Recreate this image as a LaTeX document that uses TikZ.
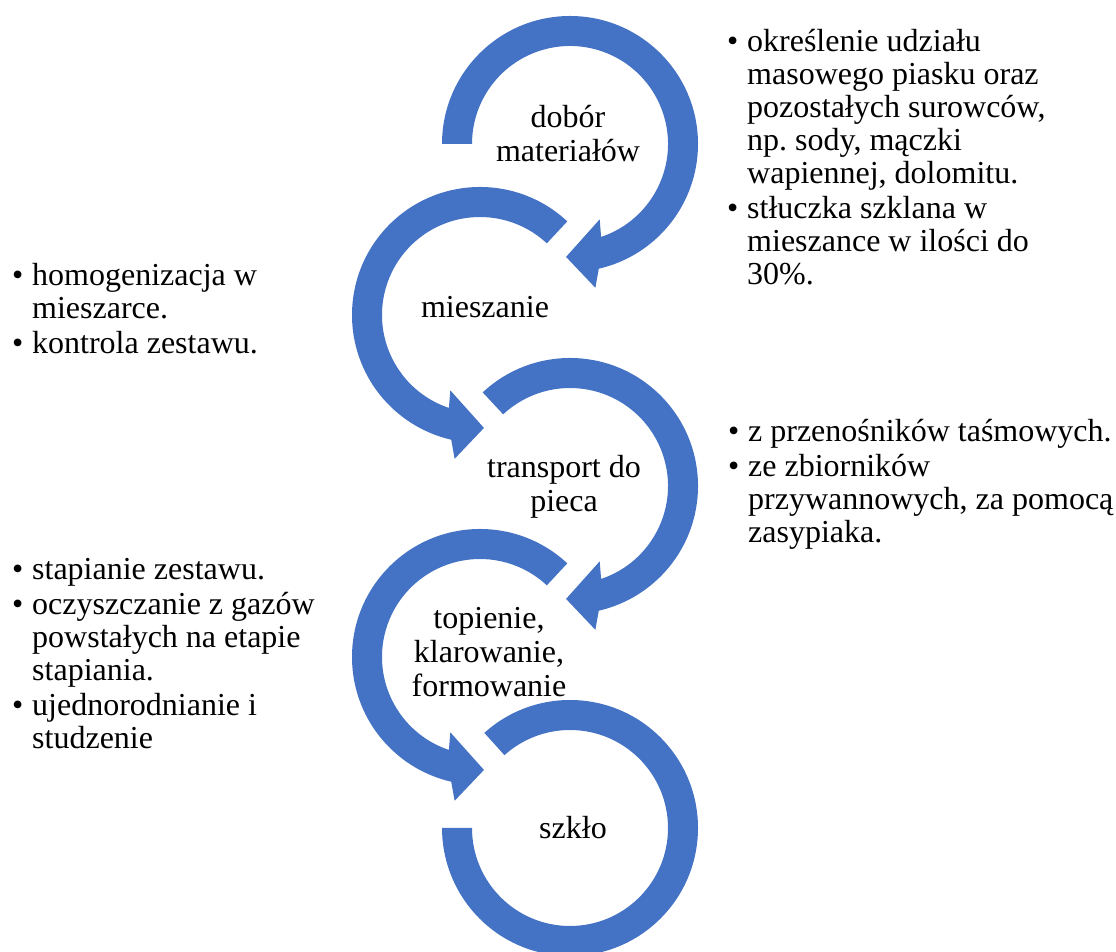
\documentclass[tikz,border=0pt]{standalone}
\usepackage{fontspec}
\setmainfont{Liberation Serif}
\frenchspacing
\definecolor{arcblue}{HTML}{4472C4}
\newcommand\bul{\makebox[20pt][l]{•}}
\newcommand\ind{\hspace*{20pt}}
\begin{document}
\begin{tikzpicture}[x=1pt,y=1pt,
  band/.style={fill=arcblue},
  stage/.style={inner sep=0pt, align=center, anchor=base, font=\fontsize{32}{34}\selectfont},
  note/.style={inner sep=0pt, align=left, anchor=base west, font=\fontsize{32}{33}\selectfont}]
\useasboundingbox (0,0) rectangle (1116,952);
\coordinate (c1) at (570,808);
\coordinate (c2) at (480,637);
\coordinate (c3) at (570,466);
\coordinate (c4) at (480,295);
\coordinate (c5) at (570,124);
% circle 1 (clockwise, from left)
\begin{scope}[shift={(c1)}]
\fill[band] (180:128) arc[start angle=180, end angle=-77, radius=128] -- (-80:146) -- (-92:113) -- (-68.5:81) -- (-71.5:98) arc[start angle=-71.5, end angle=180, radius=98] -- cycle;
\end{scope}
% circle 2 (counter-clockwise)
\begin{scope}[shift={(c2)}]
\fill[band] (47:128) arc[start angle=47, end angle=257, radius=128] -- (260:146) -- (272:113) -- (248.5:81) -- (251.5:98) arc[start angle=251.5, end angle=47, radius=98] -- cycle;
\end{scope}
% circle 3 (clockwise)
\begin{scope}[shift={(c3)}]
\fill[band] (133:128) arc[start angle=133, end angle=-77, radius=128] -- (-80:146) -- (-92:113) -- (-68.5:81) -- (-71.5:98) arc[start angle=-71.5, end angle=133, radius=98] -- cycle;
\end{scope}
% circle 4 (counter-clockwise)
\begin{scope}[shift={(c4)}]
\fill[band] (47:128) arc[start angle=47, end angle=257, radius=128] -- (260:146) -- (272:113) -- (248.5:81) -- (251.5:98) arc[start angle=251.5, end angle=47, radius=98] -- cycle;
\end{scope}
% circle 5 (clockwise, no head)
\begin{scope}[shift={(c5)}]
\fill[band] (132:128) arc[start angle=132, end angle=-180, radius=128] -- (-180:98) arc[start angle=-180, end angle=132, radius=98] -- cycle;
\end{scope}
% stage labels (anchor = baseline of last line)
\node[stage] (t1) at (568,790) {dobór\\materiałów};
\node[stage] (t2) at (485,634) {mieszanie};
\node[stage] (t3) at (564,440) {transport do\\pieca};
\node[stage] (t4) at (489,255) {topienie,\\klarowanie,\\formowanie};
\node[stage] (t5) at (573,113) {szkło};
% notes (anchor = baseline of last line)
\node[note] (n1) at (727,667) {\bul określenie udziału\\\ind masowego piasku oraz\\\ind pozostałych surowców,\\\ind np. sody, mączki\\\ind wapiennej, dolomitu.\\[2pt]\bul stłuczka szklana w\\\ind mieszance w ilości do\\\ind 30\%.};
\node[note] (n2) at (12,598) {\bul homogenizacja w\\\ind mieszarce.\\[2pt]\bul kontrola zestawu.};
\node[note] (n3) at (728,409) {\bul z przenośników taśmowych.\\[2pt]\bul ze zbiorników\\\ind przywannowych, za pomocą\\\ind zasypiaka.};
\node[note] (n4) at (12,203) {\bul stapianie zestawu.\\[2pt]\bul oczyszczanie z gazów\\\ind powstałych na etapie\\\ind stapiania.\\[2pt]\bul ujednorodnianie i\\\ind studzenie};
\end{tikzpicture}
\end{document}
